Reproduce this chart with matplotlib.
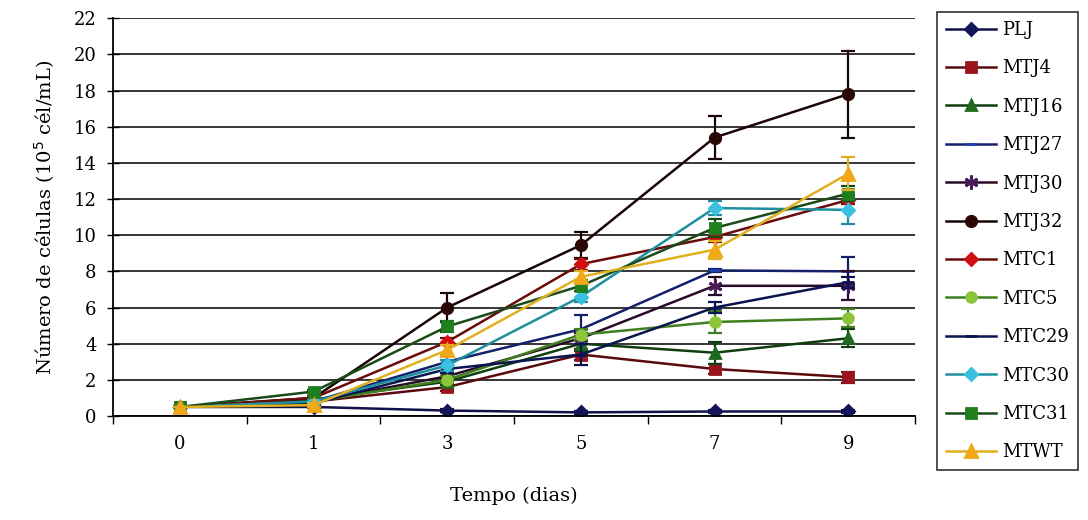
import numpy as np
import matplotlib.pyplot as plt

# sampling days (categorical axis)
days = ['0', '1', '3', '5', '7', '9']

names = ['PLJ', 'MTJ4', 'MTJ16', 'MTJ27', 'MTJ30', 'MTJ32',
         'MTC1', 'MTC5', 'MTC29', 'MTC30', 'MTC31', 'MTWT']

# cell counts (10^5 cel/mL)
plj = [0.5, 0.5, 0.3, 0.2, 0.25, 0.25]
mtj4 = [0.5, 0.8, 1.6, 3.4, 2.6, 2.15]
mtj16 = [0.5, 0.9, 1.9, 4.0, 3.5, 4.3]
mtj27 = [0.5, 0.8, 3.0, 4.8, 8.05, 8.0]
mtj30 = [0.5, 0.8, 2.2, 4.3, 7.2, 7.2]
mtj32 = [0.5, 1.0, 6.0, 9.45, 15.4, 17.8]
mtc1 = [0.5, 1.0, 4.1, 8.4, 9.9, 11.95]
mtc5 = [0.5, 0.8, 2.0, 4.5, 5.2, 5.4]
mtc29 = [0.5, 0.7, 2.6, 3.4, 6.0, 7.4]
mtc30 = [0.5, 0.8, 2.8, 6.6, 11.5, 11.4]
mtc31 = [0.5, 1.35, 4.95, 7.2, 10.4, 12.3]
mtwt = [0.5, 0.6, 3.65, 7.7, 9.2, 13.4]

# standard deviations
plj_err = [0, 0, 0.1, 0.1, 0.1, 0.1]
mtj4_err = [0, 0.1, 0.2, 0.3, 0.3, 0.3]
mtj16_err = [0, 0.1, 0.2, 0.4, 0.6, 0.5]
mtj27_err = [0, 0.1, 0.3, 0.8, 0.1, 0.8]
mtj30_err = [0, 0.1, 0.2, 0.3, 0.5, 0.8]
mtj32_err = [0, 0.1, 0.8, 0.7, 1.2, 2.4]
mtc1_err = [0, 0.1, 0.2, 0.3, 0.3, 0.2]
mtc5_err = [0, 0.1, 0.2, 0.3, 0.6, 0.5]
mtc29_err = [0, 0.1, 0.2, 0.6, 0.3, 0.3]
mtc30_err = [0, 0.1, 0.3, 0.3, 0.4, 0.8]
mtc31_err = [0, 0.1, 0.3, 0.3, 0.5, 0.4]
mtwt_err = [0, 0.1, 0.3, 0.3, 0.5, 0.9]

values = [plj, mtj4, mtj16, mtj27, mtj30, mtj32, mtc1, mtc5, mtc29, mtc30, mtc31, mtwt]
errors = [plj_err, mtj4_err, mtj16_err, mtj27_err, mtj30_err, mtj32_err,
          mtc1_err, mtc5_err, mtc29_err, mtc30_err, mtc31_err, mtwt_err]

# (line colour, marker, marker face colour, marker size)
styles = [
    ('#10104a', 'D', '#14145a', 6.5),
    ('#5a0a0a', 's', '#9a1420', 6.5),
    ('#0f3f0f', '^', '#1f6a1f', 7.5),
    ('#14206a', '_', '#2040b0', 9),
    ('#2a0a2a', (6, 2, 0), '#4a1a5a', 10),
    ('#1a0505', 'o', '#2a0808', 7.5),
    ('#6a0a0a', 'D', '#d01010', 6.5),
    ('#3f7f1f', 'o', '#8cc43a', 7),
    ('#0a1450', '_', '#0a1450', 9),
    ('#1f8fa0', 'D', '#3cc0e0', 6.5),
    ('#1a4a1a', 's', '#1f7f1f', 6.5),
    ('#e0b020', '^', '#f0a818', 8),
]

plt.rcParams['font.family'] = ['DejaVu Serif']

fig = plt.figure(figsize=(10.88, 5.2), dpi=100)
ax = fig.add_axes([0.104, 0.2, 0.737, 0.765])

x = np.arange(len(days))
handles = []
for name, y, e, (lc, mk, fc, ms) in zip(names, values, errors, styles):
    ax.errorbar(x, y, yerr=e, fmt='none', ecolor=lc, elinewidth=1.6,
                capsize=5, capthick=1.6)
    ln, = ax.plot(x, y, color=lc, linewidth=1.8, marker=mk, markersize=ms,
                  markerfacecolor=fc, markeredgecolor=fc, markeredgewidth=2,
                  label=name)
    handles.append(ln)

ax.set_xlim(-0.5, len(days) - 0.5)
ax.set_ylim(0, 22)
ax.set_yticks(np.arange(0, 23, 2))
ax.set_xticks(x)
ax.set_xticklabels(days)
ax.set_xticks(np.arange(-0.5, len(days), 1), minor=True)
ax.tick_params(axis='x', which='major', length=0, pad=14, labelsize=13)
ax.tick_params(axis='x', which='minor', length=6, direction='out', width=1)
ax.tick_params(axis='y', length=8, direction='inout', width=1, labelsize=13, pad=8)
ax.yaxis.grid(True, color='black', linewidth=1.1)
ax.set_axisbelow(True)
for s in ['top', 'right']:
    ax.spines[s].set_visible(False)
ax.spines['left'].set_linewidth(1.3)
ax.spines['bottom'].set_linewidth(1.3)

ax.set_ylabel('Número de células (10$^5$ cél/mL)', fontsize=14, labelpad=12)
ax.set_xlabel('Tempo (dias)', fontsize=14, labelpad=24)

leg = fig.legend(handles=handles, loc='upper left', bbox_to_anchor=(0.861, 0.977),
                 fontsize=13, frameon=True, fancybox=False, edgecolor='black',
                 handlelength=2.8, labelspacing=1.13, borderpad=0.5,
                 handletextpad=0.3, borderaxespad=0)
leg.get_frame().set_linewidth(1.2)

fig.savefig('out.png', dpi=100)
